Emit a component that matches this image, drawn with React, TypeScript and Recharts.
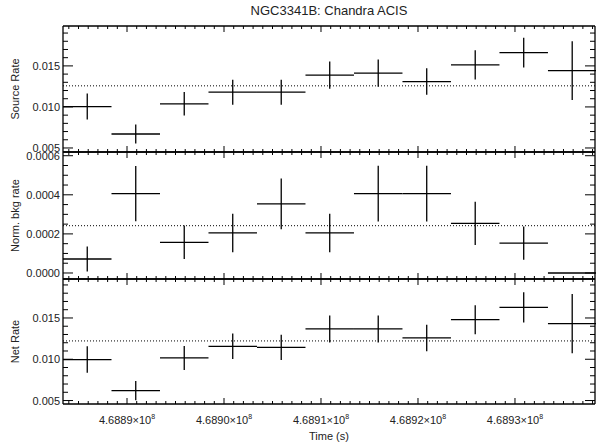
import { ScatterChart, Scatter, XAxis, YAxis, ErrorBar, ReferenceLine, Label } from "recharts";

// time bins (s), 5000 s wide
const binCenters = [
  468885900, 468890900, 468895900, 468900900, 468905900, 468910900,
  468915900, 468920900, 468925900, 468930900, 468935900,
];
const binHalfWidth = 2500;

const sourceRate = [0.01005, 0.0067, 0.01038, 0.0118, 0.0118, 0.01387, 0.01411, 0.01309, 0.01512, 0.01662, 0.01443];
const sourceErr = [0.00158, 0.00115, 0.00143, 0.00152, 0.00152, 0.00166, 0.00166, 0.00162, 0.00179, 0.00182, 0.00358];
const sourceMean = 0.01257;

const bkgRate = [0.0000716, 0.000406, 0.000157, 0.000205, 0.000354, 0.000205, 0.000406, 0.000406, 0.000254, 0.000153, 0];
const bkgErr = [0.000064, 0.000141, 0.0000854, 0.0000987, 0.00013, 0.0000987, 0.000143, 0.000143, 0.000111, 0.0000854, 0];
const bkgMean = 0.000242;

const netRate = [0.00996, 0.00621, 0.01016, 0.01157, 0.01144, 0.01367, 0.01367, 0.01258, 0.01479, 0.01628, 0.01431];
const netErr = [0.00161, 0.00117, 0.00145, 0.00155, 0.00154, 0.00163, 0.00163, 0.00161, 0.00175, 0.00184, 0.00359];
const netMean = 0.01222;

const timeDomain = [468883400, 468938250];
const timeMajor = [468890000, 468900000, 468910000, 468920000, 468930000];
const timeMinor: number[] = [];
for (let t = 468884000; t <= 468938000; t += 1000) timeMinor.push(t);

const rateMajor = [0.005, 0.01, 0.015];
const rateMinor = [0.005, 0.006, 0.007, 0.008, 0.009, 0.01, 0.011, 0.012, 0.013, 0.014, 0.015, 0.016, 0.017, 0.018, 0.019];
const bkgMajor = [0, 0.0002, 0.0004, 0.0006];
const bkgMinor = [0, 0.00005, 0.0001, 0.00015, 0.0002, 0.00025, 0.0003, 0.00035, 0.0004, 0.00045, 0.0005, 0.00055, 0.0006];

const FONT = "'Liberation Sans', Arial, Helvetica, sans-serif";
const W = 596;
const H = 445;

const isMajor = (majors: number[], v: number) =>
  majors.some((m) => Math.abs(m - v) <= Math.abs(m) * 1e-9 + 1e-12);

function makeTick(side: string, majors: number[], fmt: ((v: number) => any) | null, bigLen: number, smallLen: number) {
  return (props: any) => {
    const { x, y, payload } = props;
    const major = isMajor(majors, payload.value);
    const len = major ? bigLen : smallLen;
    let x2 = x;
    let y2 = y;
    if (side === "bottom") y2 = y - len;
    if (side === "top") y2 = y + len;
    if (side === "left") x2 = x + len;
    if (side === "right") x2 = x - len;
    return (
      <g>
        <line x1={x} y1={y} x2={x2} y2={y2} stroke="#000" strokeWidth={1} />
        {major && fmt && side === "left" && (
          <text x={x - 3} y={y + 4} textAnchor="end" fontSize={11} fontFamily={FONT} fill="#222">
            {fmt(payload.value)}
          </text>
        )}
        {major && fmt && side === "bottom" && (
          <text x={x} y={y + 20} textAnchor="middle" fontSize={11} fontFamily={FONT} fill="#222">
            {fmt(payload.value)}
          </text>
        )}
      </g>
    );
  };
}

const timeFmt = (v: number) => (
  <>
    {(v / 1e8).toFixed(4)}×10
    <tspan dy={-5} fontSize={7}>8</tspan>
  </>
);

type PanelProps = {
  rates: number[];
  errs: number[];
  mean: number;
  domain: number[];
  major: number[];
  minor: number[];
  digits: number;
  top: number;
  bottom: number;
  title: string;
  showTime: boolean;
};

function Panel({ rates, errs, mean, domain, major, minor, digits, top, bottom, title, showTime }: PanelProps) {
  const data = binCenters.map((t, i) => ({ t, v: rates[i], ev: errs[i], et: binHalfWidth }));
  const yFmt = (v: number) => v.toFixed(digits);
  return (
    <div style={{ position: "absolute", left: 0, top: 0 }}>
      <ScatterChart width={W} height={H} margin={{ top: top - 1, right: 0, bottom: H - bottom - 40, left: 0 }}>
        <XAxis
          xAxisId="b"
          dataKey="t"
          type="number"
          domain={timeDomain}
          allowDataOverflow
          ticks={timeMinor}
          interval={0}
          tickSize={0}
          tickMargin={0}
          tickLine={false}
          height={40}
          axisLine={{ stroke: "#000", strokeWidth: 1.3 }}
          tick={makeTick("bottom", timeMajor, showTime ? timeFmt : null, 6, 3)}
        >
          {showTime && (
            <Label
              content={(p: any) => (
                <text
                  x={p.viewBox.x + p.viewBox.width / 2}
                  y={p.viewBox.y + 36}
                  textAnchor="middle"
                  fontSize={11}
                  fontFamily={FONT}
                  fill="#222"
                >
                  Time (s)
                </text>
              )}
            />
          )}
        </XAxis>
        <XAxis
          xAxisId="t"
          orientation="top"
          dataKey="t"
          type="number"
          domain={timeDomain}
          allowDataOverflow
          ticks={timeMinor}
          interval={0}
          tickSize={0}
          tickMargin={0}
          tickLine={false}
          height={1}
          axisLine={{ stroke: "#000", strokeWidth: 1.3 }}
          tick={makeTick("top", timeMajor, null, 6, 3)}
        />
        <YAxis
          yAxisId="l"
          dataKey="v"
          type="number"
          domain={domain}
          allowDataOverflow
          ticks={minor}
          interval={0}
          tickSize={0}
          tickMargin={0}
          tickLine={false}
          width={63}
          axisLine={{ stroke: "#000", strokeWidth: 1.3 }}
          tick={makeTick("left", major, yFmt, 10, 5)}
        >
          <Label
            content={(p: any) => {
              const cx = 19;
              const cy = p.viewBox.y + p.viewBox.height / 2;
              return (
                <text
                  x={cx}
                  y={cy}
                  transform={`rotate(-90 ${cx} ${cy})`}
                  textAnchor="middle"
                  fontSize={11}
                  fontFamily={FONT}
                  fill="#222"
                >
                  {title}
                </text>
              );
            }}
          />
        </YAxis>
        <YAxis
          yAxisId="r"
          orientation="right"
          type="number"
          domain={domain}
          allowDataOverflow
          ticks={minor}
          interval={0}
          tickSize={0}
          tickMargin={0}
          tickLine={false}
          width={1}
          axisLine={{ stroke: "#000", strokeWidth: 1.3 }}
          tick={makeTick("right", major, null, 10, 5)}
        />
        <ReferenceLine xAxisId="b" yAxisId="l" y={mean} stroke="#000" strokeWidth={1} strokeDasharray="1 2" />
        <Scatter xAxisId="b" yAxisId="l" data={data} dataKey="v" shape={() => <g />} isAnimationActive={false}>
          <ErrorBar dataKey="et" direction="x" width={0} stroke="#000" strokeWidth={1.3} isAnimationActive={false} />
          <ErrorBar dataKey="ev" direction="y" width={0} stroke="#000" strokeWidth={1.3} isAnimationActive={false} />
        </Scatter>
      </ScatterChart>
    </div>
  );
}

export default function App() {
  return (
    <div style={{ position: "absolute", left: 0, top: 0, width: W, height: H, background: "#fff" }}>
      <div
        style={{
          position: "absolute",
          left: 63,
          width: 532,
          top: 3,
          textAlign: "center",
          fontFamily: FONT,
          fontSize: 13,
          color: "#222",
        }}
      >
        NGC3341B: Chandra ACIS
      </div>
      <Panel
        rates={sourceRate}
        errs={sourceErr}
        mean={sourceMean}
        domain={[0.00451, 0.01986]}
        major={rateMajor}
        minor={rateMinor}
        digits={3}
        top={26}
        bottom={152}
        title="Source Rate"
        showTime={false}
      />
      <Panel
        rates={bkgRate}
        errs={bkgErr}
        mean={bkgMean}
        domain={[-0.0000307, 0.000619]}
        major={bkgMajor}
        minor={bkgMinor}
        digits={4}
        top={152}
        bottom={279}
        title="Norm. bkg rate"
        showTime={false}
      />
      <Panel
        rates={netRate}
        errs={netErr}
        mean={netMean}
        domain={[0.00458, 0.01972]}
        major={rateMajor}
        minor={rateMinor}
        digits={3}
        top={279}
        bottom={404}
        title="Net Rate"
        showTime={true}
      />
    </div>
  );
}
